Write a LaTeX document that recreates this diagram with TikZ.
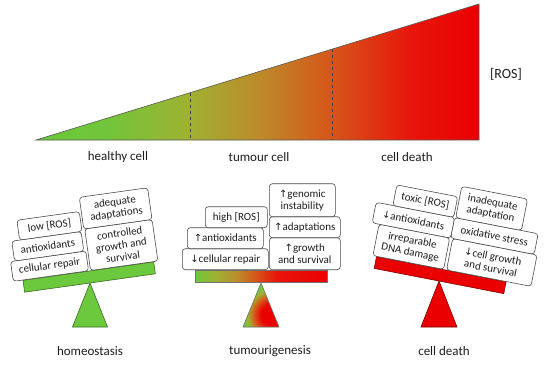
\documentclass[tikz,border=0pt]{standalone}
\usepackage{fontspec}
\setmainfont{Carlito}
\newfontfamily\arrowfont{DejaVu Sans}
\newcommand\uparr{{\arrowfont\fontsize{10}{12}\selectfont ↑}}
\newcommand\downarr{{\arrowfont\fontsize{10}{12}\selectfont ↓}}
\definecolor{cgreen}{RGB}{108,200,60}
\definecolor{cgreenB}{RGB}{112,198,58}
\definecolor{colive}{RGB}{160,176,50}
\definecolor{cbrown}{RGB}{188,140,42}
\definecolor{corange}{RGB}{215,85,25}
\definecolor{credA}{RGB}{232,20,10}
\definecolor{cred}{RGB}{234,0,0}
\definecolor{ctext}{RGB}{30,30,30}
\pgfdeclarehorizontalshading{rosgrad}{100bp}{color(0bp)=(cgreen); color(25bp)=(cgreen); color(32.5bp)=(cgreenB); color(42.4bp)=(colive); color(50bp)=(cbrown); color(58.4bp)=(corange); color(67.5bp)=(credA); color(75bp)=(cred); color(100bp)=(cred)}
\pgfdeclarehorizontalshading{beamgrad}{100bp}{color(0bp)=(cgreen); color(25bp)=(cgreen); color(33bp)=(colive); color(41bp)=(cbrown); color(48bp)=(corange); color(56bp)=(credA); color(75bp)=(cred); color(100bp)=(cred)}
\pgfdeclareradialshading{tumrad}{\pgfpoint{0bp}{0bp}}{color(0bp)=(cred); color(9bp)=(cred); color(15bp)=(corange); color(20bp)=(colive); color(25bp)=(cgreen); color(50bp)=(cgreen)}
\begin{document}
\begin{tikzpicture}[x=1pt,y=-1pt,
  box/.style={draw=black!70, fill=white, rounded corners=3pt, line width=0.6pt,
    align=center, inner sep=1pt, text=ctext,
    font=\fontsize{11}{12}\selectfont, anchor=south west},
  lab/.style={font=\fontsize{13}{15}\selectfont, text=ctext},
  edge/.style={line width=0.6pt},
]
\useasboundingbox (0,0) rectangle (550,365);

% ---------- top ROS wedge ----------
\shade[shading=rosgrad] (36,140) -- (479,4) -- (479,140) -- cycle;
\draw[edge, draw=black!65] (36,140) -- (479,4) -- (479,140) -- cycle;
\coordinate (d1t) at (190,92.7);
\coordinate (d1b) at (190,140);
\coordinate (d2t) at (332,49.2);
\coordinate (d2b) at (332,140);
\draw[dashed, line width=0.7pt, black!75] (d1t) -- (d1b);
\draw[dashed, line width=0.7pt, black!75] (d2t) -- (d2b);
\node[lab, font=\fontsize{14}{16}\selectfont] (ros) at (506,74) {[ROS]};
\node[lab] (lh) at (118,157) {healthy cell};
\node[lab] (lt) at (259,157) {tumour cell};
\node[lab] (ld) at (407,157) {cell death};

% ---------- homeostasis ----------
\fill[cgreen] (90,283) -- (72.5,327) -- (107.5,327) -- cycle;
\draw[edge, draw=cgreen!55!black] (90,283) -- (72.5,327) -- (107.5,327) -- cycle;
\begin{scope}[shift={(90,283)}, rotate=8, transform shape]
  \draw[edge, fill=cgreen, draw=cgreen!55!black] (-66,0) rectangle (66,-12);
  \node[box, minimum width=76pt, minimum height=20pt] (h1) at (-76,-12) {cellular repair};
  \node[box, minimum width=70pt, minimum height=20pt] (h2) at (-72,-32) {antioxidants};
  \node[box, minimum width=63pt, minimum height=20pt] (h3) at (-64,-52) {low [ROS]};
  \node[box, minimum width=68pt, minimum height=42pt] (h4) at (2,-12) {controlled\\growth and\\survival};
  \node[box, minimum width=69pt, minimum height=32pt] (h5) at (1,-54) {adequate\\adaptations};
\end{scope}
\node[lab] (lhom) at (90,351) {homeostasis};

% ---------- tumourigenesis ----------
\fill[cgreen] (261,283) -- (243,327) -- (279,327) -- cycle;
\begin{scope}
  \clip (261,283) -- (243,327) -- (279,327) -- cycle;
  \shade[shading=tumrad] (272,315) circle (30);
\end{scope}
\draw[edge, draw=black!55] (261,283) -- (243,327) -- (279,327) -- cycle;
\begin{scope}[shift={(261,283)}]
  \shade[shading=beamgrad] (-66,-1) rectangle (66,-13);
  \draw[edge, draw=black!55] (-66,-1) rectangle (66,-13);
  \node[box, minimum width=86pt, minimum height=21pt] (t1) at (-79,-13) {\downarr cellular repair};
  \node[box, minimum width=76pt, minimum height=21pt] (t2) at (-74,-34) {\uparr antioxidants};
  \node[box, minimum width=62pt, minimum height=21pt] (t3) at (-56,-55) {high [ROS]};
  \node[box, minimum width=71pt, minimum height=32pt] (t4) at (8,-13) {\uparr growth\\and survival};
  \node[box, minimum width=71pt, minimum height=21pt] (t5) at (8,-45) {\uparr adaptations};
  \node[box, minimum width=66pt, minimum height=33pt] (t6) at (8,-66) {\uparr genomic\\instability};
\end{scope}
\node[lab] (ltum) at (270,351) {tumourigenesis};

% ---------- cell death ----------
\fill[cred] (439,281) -- (421,327) -- (457,327) -- cycle;
\draw[edge, draw=cred!55!black] (439,281) -- (421,327) -- (457,327) -- cycle;
\begin{scope}[shift={(439,281)}, rotate=-11, transform shape]
  \draw[edge, fill=cred, draw=cred!55!black] (-66,0) rectangle (66,-12);
  \node[box, minimum width=72pt, minimum height=32pt] (c1) at (-70,-12) {irreparable\\DNA damage};
  \node[box, minimum width=80pt, minimum height=21pt] (c2) at (-77,-44) {\downarr antioxidants};
  \node[box, minimum width=62pt, minimum height=21pt] (c3) at (-60,-65) {toxic [ROS]};
  \node[box, minimum width=86pt, minimum height=32pt] (c4) at (5,-12) {\downarr cell growth\\and survival};
  \node[box, minimum width=85pt, minimum height=21pt] (c5) at (3,-44) {oxidative stress};
  \node[box, minimum width=67pt, minimum height=32pt] (c6) at (4,-65) {inadequate\\adaptation};
\end{scope}
\node[lab] (lcd) at (444,351) {cell death};
\end{tikzpicture}
\end{document}
